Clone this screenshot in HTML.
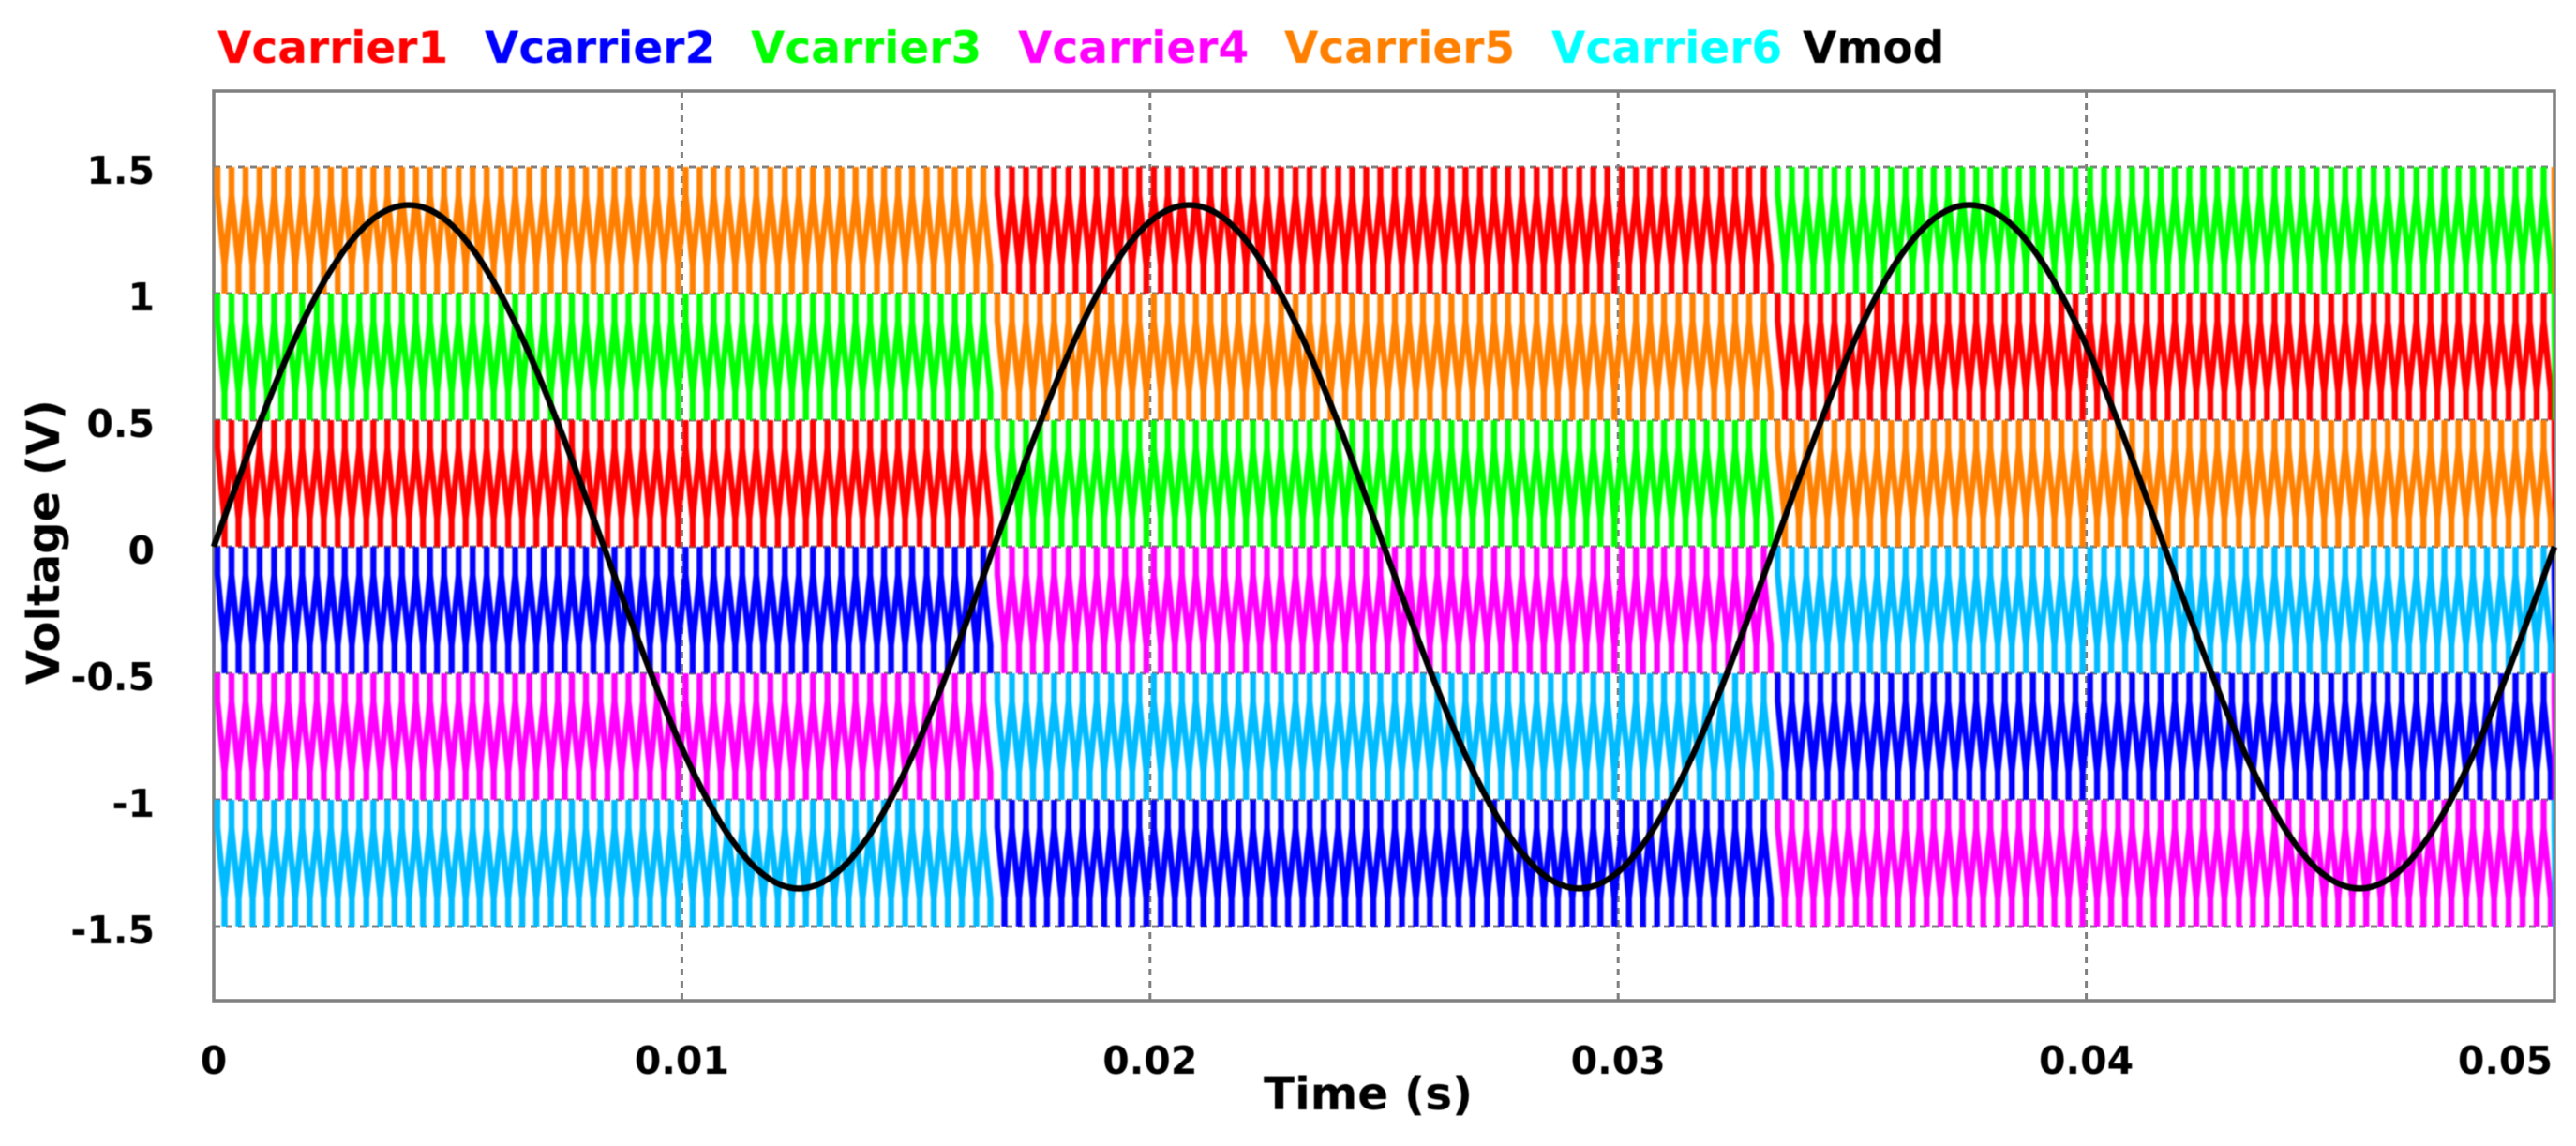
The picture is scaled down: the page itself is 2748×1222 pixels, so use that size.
<!DOCTYPE html>
<html lang="en">
<head>
<meta charset="utf-8">
<title>Carrier and modulation voltages</title>
<style>
html,body{margin:0;padding:0;background:#fff;width:2748px;height:1222px;overflow:hidden}
svg{display:block}
text{font-family:"DejaVu Sans","Liberation Sans",sans-serif;font-weight:bold}
</style>
</head>
<body>
<svg id="chart" xmlns="http://www.w3.org/2000/svg" width="2748" height="1222" viewBox="0 0 2748 1222">
  <defs>
    <clipPath id="plot-clip"><rect x="223" y="97" width="2502" height="970"/></clipPath>
  </defs>
  <rect x="0" y="0" width="2748" height="1222" fill="#fff"/>
  <g id="grid"></g>
  <rect x="228" y="97" width="2497" height="970" fill="none" stroke="#808080" stroke-width="3.5"/>
  <g id="carriers" clip-path="url(#plot-clip)" style="filter:blur(0.8px)"></g>
  <g id="mod" style="filter:blur(0.5px)"></g>
  <g id="ticks" style="filter:blur(0.6px)"></g>
  <g font-size="47" style="filter:blur(0.6px)">
    <text x="232" y="67" fill="#ff0000">Vcarrier1</text>
    <text x="517" y="67" fill="#0000ff">Vcarrier2</text>
    <text x="801" y="67" fill="#00ff00">Vcarrier3</text>
    <text x="1086" y="67" fill="#ff00ff">Vcarrier4</text>
    <text x="1370" y="67" fill="#ff8000">Vcarrier5</text>
    <text x="1655" y="67" fill="#00ffff">Vcarrier6</text>
    <text x="1923" y="67" fill="#000000">Vmod</text>
  </g>
  <text x="1348" y="1183" font-size="48.5" fill="#000" style="filter:blur(0.6px)">Time (s)</text>
  <text transform="translate(63,730) rotate(-90)" x="0" y="0" font-size="48" fill="#000" style="filter:blur(0.6px)">Voltage (V)</text>
</svg>
<script>
// ---- chart data (times in milliseconds, values in volts) ----
const xTicks = [0, 10, 20, 30, 40, 50];
const xTickLabels = ['0', '0.01', '0.02', '0.03', '0.04', '0.05'];
const yTicks = [1.5, 1, 0.5, 0, -0.5, -1, -1.5];
const yTickLabels = ['1.5', '1', '0.5', '0', '-0.5', '-1', '-1.5'];

const segmentStarts = [0, 16.67, 33.33, 49.99];
const segmentEnds = [16.67, 33.33, 49.99, 50.03];
const carrierBandHeight = 0.5;

// lower edge of the band each carrier occupies, per segment
const vcarrier1Low = [0, 1, 0.5, 0];
const vcarrier2Low = [-0.5, -1.5, -1, -0.5];
const vcarrier3Low = [0.5, 0, 1, 0.5];
const vcarrier4Low = [-1, -0.5, -1.5, -1];
const vcarrier5Low = [1, 0.5, 0, 1];
const vcarrier6Low = [-1.5, -1, -0.5, -1.5];

// turning points of the carrier wave
const carrierPeakTimes = [
0.08,0.38,0.68,0.98,1.29,1.59,1.89,2.20,2.50,2.80,3.11,3.41,3.71,4.02,4.32,4.62,4.92,5.23,5.53,5.83,6.14,6.44,6.74,7.05,7.35,7.65,7.95,8.26,8.56,8.86,9.17,9.47,9.77,
10.08,10.38,10.68,10.98,11.29,11.59,11.89,12.20,12.50,12.80,13.11,13.41,13.71,14.02,14.32,14.62,14.92,15.23,15.53,15.83,16.14,16.44,16.74,17.05,17.35,17.65,17.95,18.26,18.56,18.86,19.17,19.47,19.77,
20.08,20.38,20.68,20.98,21.29,21.59,21.89,22.20,22.50,22.80,23.11,23.41,23.71,24.02,24.32,24.62,24.92,25.23,25.53,25.83,26.14,26.44,26.74,27.05,27.35,27.65,27.95,28.26,28.56,28.86,29.17,29.47,29.77,
30.08,30.38,30.68,30.98,31.29,31.59,31.89,32.20,32.50,32.80,33.11,33.41,33.71,34.02,34.32,34.62,34.92,35.23,35.53,35.83,36.14,36.44,36.74,37.05,37.35,37.65,37.95,38.26,38.56,38.86,39.17,39.47,39.77,
40.08,40.38,40.68,40.98,41.29,41.59,41.89,42.20,42.50,42.80,43.11,43.41,43.71,44.02,44.32,44.62,44.92,45.23,45.53,45.83,46.14,46.44,46.74,47.05,47.35,47.65,47.95,48.26,48.56,48.86,49.17,49.47,49.77,
50.00];
const carrierTroughTimes = [
0.23,0.53,0.83,1.14,1.44,1.74,2.05,2.35,2.65,2.95,3.26,3.56,3.86,4.17,4.47,4.77,5.08,5.38,5.68,5.98,6.29,6.59,6.89,7.20,7.50,7.80,8.11,8.41,8.71,9.02,9.32,9.62,9.92,
10.23,10.53,10.83,11.14,11.44,11.74,12.05,12.35,12.65,12.95,13.26,13.56,13.86,14.17,14.47,14.77,15.08,15.38,15.68,15.98,16.29,16.59,16.89,17.20,17.50,17.80,18.11,18.41,18.71,19.02,19.32,19.62,19.92,
20.23,20.53,20.83,21.14,21.44,21.74,22.05,22.35,22.65,22.95,23.26,23.56,23.86,24.17,24.47,24.77,25.08,25.38,25.68,25.98,26.29,26.59,26.89,27.20,27.50,27.80,28.11,28.41,28.71,29.02,29.32,29.62,29.92,
30.23,30.53,30.83,31.14,31.44,31.74,32.05,32.35,32.65,32.95,33.26,33.56,33.86,34.17,34.47,34.77,35.08,35.38,35.68,35.98,36.29,36.59,36.89,37.20,37.50,37.80,38.11,38.41,38.71,39.02,39.32,39.62,39.92,
40.23,40.53,40.83,41.14,41.44,41.74,42.05,42.35,42.65,42.95,43.26,43.56,43.86,44.17,44.47,44.77,45.08,45.38,45.68,45.98,46.29,46.59,46.89,47.20,47.50,47.80,48.11,48.41,48.71,49.02,49.32,49.62,49.92,
50.02];

const vmodTimes = [
0,0.5,1,1.5,2,2.5,3,3.5,4,4.5,5,5.5,6,6.5,7,7.5,8,8.5,9,9.5,10,10.5,11,11.5,12,12.5,13,13.5,14,14.5,15,15.5,16,16.5,17,17.5,18,18.5,19,19.5,20,20.5,21,21.5,22,22.5,23,23.5,24,24.5,25,
25.5,26,26.5,27,27.5,28,28.5,29,29.5,30,30.5,31,31.5,32,32.5,33,33.5,34,34.5,35,35.5,36,36.5,37,37.5,38,38.5,39,39.5,40,40.5,41,41.5,42,42.5,43,43.5,44,44.5,45,45.5,46,46.5,47,47.5,48,48.5,49,49.5,50];
const vmodValues = [
0,0.253,0.497,0.723,0.924,1.092,1.221,1.308,1.347,1.339,1.284,1.183,1.04,0.86,0.65,0.417,0.169,-0.085,-0.336,-0.575,-0.794,-0.984,-1.14,-1.255,-1.326,-1.35,-1.326,-1.255,-1.14,-0.984,-0.794,-0.575,-0.336,-0.085,0.169,0.417,0.65,0.86,1.04,1.183,1.284,1.339,1.347,1.308,1.221,1.092,0.924,0.723,0.497,0.253,0,
-0.253,-0.497,-0.723,-0.924,-1.092,-1.221,-1.308,-1.347,-1.339,-1.284,-1.183,-1.04,-0.86,-0.65,-0.417,-0.169,0.085,0.336,0.575,0.794,0.984,1.14,1.255,1.326,1.35,1.326,1.255,1.14,0.984,0.794,0.575,0.336,0.085,-0.169,-0.417,-0.65,-0.86,-1.04,-1.183,-1.284,-1.339,-1.347,-1.308,-1.221,-1.092,-0.924,-0.723,-0.497,-0.253,0];

// ---- axis functions ----
const SVGNS = 'http://www.w3.org/2000/svg';
function xScale(ms) { return 228 + ms * 49.94; }
function yScale(v) { return 583 - v * 270; }

const gridLayer = document.getElementById('grid');
const tickLayer = document.getElementById('ticks');
const carrierLayer = document.getElementById('carriers');
const modLayer = document.getElementById('mod');

function makeGridLine(x1, y1, x2, y2) {
  const line = document.createElementNS(SVGNS, 'line');
  line.setAttribute('x1', x1);
  line.setAttribute('y1', y1);
  line.setAttribute('x2', x2);
  line.setAttribute('y2', y2);
  line.setAttribute('stroke', '#808080');
  line.setAttribute('stroke-width', '3');
  line.setAttribute('stroke-dasharray', '7 6');
  return line;
}
function makeLabel(x, y, anchor, str) {
  const t = document.createElementNS(SVGNS, 'text');
  t.setAttribute('x', x);
  t.setAttribute('y', y);
  t.setAttribute('text-anchor', anchor);
  t.setAttribute('font-size', '41');
  t.setAttribute('fill', '#000');
  t.textContent = str;
  return t;
}

yTicks.forEach(function (v, i) {
  const g = makeGridLine(228, yScale(v), 2725, yScale(v));
  
  
  gridLayer.appendChild(g);
  const lab = makeLabel(165, yScale(v) + 18, 'end', yTickLabels[i]);
  
  
  tickLayer.appendChild(lab);
});
xTicks.forEach(function (ms, i) {
  if (i > 0 && i < xTicks.length - 1) {
    const g = makeGridLine(xScale(ms), 97, xScale(ms), 1067);
    
    
    gridLayer.appendChild(g);
  }
  const last = i === xTicks.length - 1;
  const lab = makeLabel(last ? 2723 : xScale(ms), 1145, last ? 'end' : 'middle', xTickLabels[i]);
  
  
  tickLayer.appendChild(lab);
});

// ---- carrier traces ----
const turningPoints = [];
carrierPeakTimes.forEach(function (t) { turningPoints.push([t, 1]); });
carrierTroughTimes.forEach(function (t) { turningPoints.push([t, 0]); });
turningPoints.sort(function (a, b) { return a[0] - b[0]; });

function carrierPath(lows) {
  let d = '';
  segmentStarts.forEach(function (start, s) {
    const end = segmentEnds[s];
    const low = lows[s];
    const px = function (t, ph) {
      return xScale(t).toFixed(1) + ' ' + yScale(low + ph * carrierBandHeight).toFixed(1);
    };
    let started = false;
    turningPoints.forEach(function (p) {
      if (p[0] > start && p[0] < end) {
        // the undersampled source trace shows near-vertical tips joined by slanted flanks
        const knee = p[1] === 1 ? 0.78 : 0.22;
        d += (started ? 'L' : 'M') + px(p[0], knee);
        d += 'L' + px(p[0], p[1]);
        d += 'L' + px(p[0], knee);
        started = true;
      }
    });
  });
  return d;
}
function addCarrier(lows, color, name) {
  const path = document.createElementNS(SVGNS, 'path');
  path.setAttribute('d', carrierPath(lows));
  path.setAttribute('fill', 'none');
  path.setAttribute('stroke', color);
  path.setAttribute('stroke-width', '6.4');
  path.setAttribute('stroke-linejoin', 'bevel');
  path.setAttribute('stroke-linecap', 'butt');
  
  
  carrierLayer.appendChild(path);
}
addCarrier(vcarrier1Low, '#ff0000', 'vcarrier1-trace');
addCarrier(vcarrier2Low, '#0000ff', 'vcarrier2-trace');
addCarrier(vcarrier3Low, '#00ff00', 'vcarrier3-trace');
addCarrier(vcarrier4Low, '#ff00ff', 'vcarrier4-trace');
addCarrier(vcarrier5Low, '#ff8000', 'vcarrier5-trace');
addCarrier(vcarrier6Low, '#00bbff', 'vcarrier6-trace');

// ---- modulation trace ----
function vmodPath() {
  const pts = vmodTimes.map(function (t, i) {
    return [xScale(t), yScale(vmodValues[i])];
  });
  let d = 'M' + pts[0][0].toFixed(1) + ' ' + pts[0][1].toFixed(1);
  for (let i = 0; i < pts.length - 1; i++) {
    const p0 = pts[Math.max(i - 1, 0)];
    const p1 = pts[i];
    const p2 = pts[i + 1];
    const p3 = pts[Math.min(i + 2, pts.length - 1)];
    const c1x = p1[0] + (p2[0] - p0[0]) / 6;
    const c1y = p1[1] + (p2[1] - p0[1]) / 6;
    const c2x = p2[0] - (p3[0] - p1[0]) / 6;
    const c2y = p2[1] - (p3[1] - p1[1]) / 6;
    d += 'C' + c1x.toFixed(1) + ' ' + c1y.toFixed(1) + ' ' + c2x.toFixed(1) + ' ' + c2y.toFixed(1) + ' ' + p2[0].toFixed(1) + ' ' + p2[1].toFixed(1);
  }
  return d;
}
const modLine = document.createElementNS(SVGNS, 'path');
modLine.setAttribute('d', vmodPath());
modLine.setAttribute('fill', 'none');
modLine.setAttribute('stroke', '#000');
modLine.setAttribute('stroke-width', '6.5');
modLine.setAttribute('stroke-linejoin', 'round');


modLayer.appendChild(modLine);
</script>
</body>
</html>
